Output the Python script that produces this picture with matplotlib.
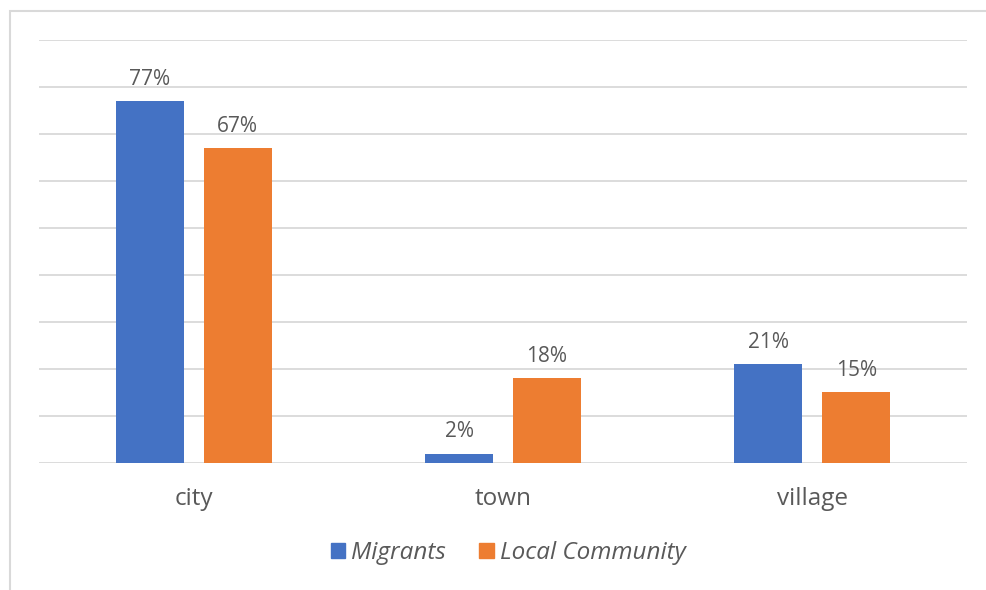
import matplotlib.pyplot as plt
import matplotlib.patches as mpatches
import numpy as np

# settlement type where respondents live, share per group (%)
categorias = ["city", "town", "village"]
migrantes = [77, 2, 21]
comunidad_local = [67, 18, 15]
series = ["Migrants", "Local Community"]
colores = ["#4472C4", "#ED7D31"]

plt.rcParams['font.family'] = ['Open Sans', 'DejaVu Sans']
gris_texto = "#595959"

fig = plt.figure(figsize=(9.87, 5.9), dpi=100)
ax = fig.add_axes([0.0395, 0.2153, 0.9402, 0.7169])

x = np.arange(len(categorias))
ancho = 0.22
desp = 0.142

b1 = ax.bar(x - desp, migrantes, ancho, color=colores[0], zorder=3)
b2 = ax.bar(x + desp, comunidad_local, ancho, color=colores[1], zorder=3)

for barras, valores in ((b1, migrantes), (b2, comunidad_local)):
    for barra, v in zip(barras, valores):
        ax.annotate(f"{v}%", (barra.get_x() + barra.get_width() / 2, v),
                    xytext=(0, 8), textcoords="offset points",
                    ha="center", va="bottom", fontsize=15, color=gris_texto)

ax.set_xlim(-0.5, 2.5)
ax.set_ylim(0, 90)
ax.set_yticks(np.arange(0, 91, 10))
ax.set_yticklabels([])
ax.tick_params(axis="y", length=0)
ax.grid(axis="y", color="#d9d9d9", linewidth=1.3, zorder=0)
ax.set_xticks(x)
ax.set_xticklabels(categorias, fontsize=17.5, color=gris_texto)
ax.tick_params(axis="x", length=0, pad=17)
for lado in ax.spines.values():
    lado.set_visible(False)

# marco exterior del gráfico
fig.patches.append(mpatches.Rectangle((10 / 987, -0.01), 1.0, 1 - 11 / 590 + 0.01,
                                      transform=fig.transFigure, fill=False,
                                      edgecolor="#d9d9d9", linewidth=1.5))

handles = [mpatches.Patch(color=c, label=s) for c, s in zip(colores, series)]
leg = fig.legend(handles=handles, loc="center", bbox_to_anchor=(508 / 987, 1 - 553 / 590),
                 ncol=2, frameon=False, handlelength=0.6, handleheight=0.6,
                 handletextpad=0.25, columnspacing=1.35,
                 prop={"size": 17.5, "style": "italic"})
for t in leg.get_texts():
    t.set_color(gris_texto)

fig.savefig("out.png", dpi=100)
